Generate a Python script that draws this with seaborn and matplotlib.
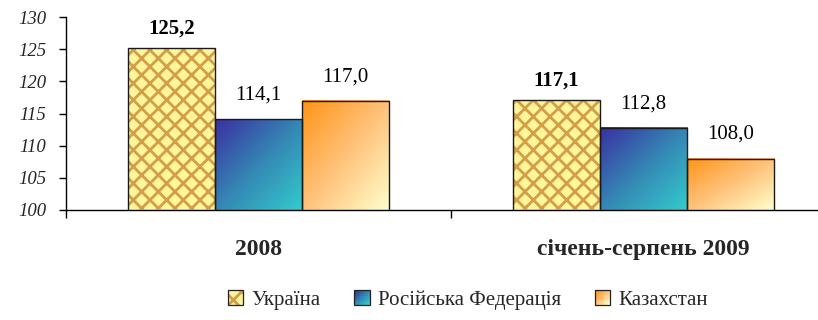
import numpy as np
import pandas as pd
import matplotlib
matplotlib.use("Agg")
import matplotlib.pyplot as plt
import seaborn as sns
from matplotlib.colors import LinearSegmentedColormap
from matplotlib.patches import Rectangle
from matplotlib.legend_handler import HandlerBase

# --- data -----------------------------------------------------------------
periods = ["2008", "січень-серпень 2009"]
countries = ["Україна", "Російська Федерація", "Казахстан"]
ukraine = [125.2, 117.1]
russia = [114.1, 112.8]
kazakhstan = [117.0, 108.0]
y_ticks = [100, 105, 110, 115, 120, 125, 130]

df = pd.DataFrame({
    "period": periods * 3,
    "country": [c for c in countries for _ in periods],
    "value": ukraine + russia + kazakhstan,
})

# --- style ------------------------------------------------------------------
sns.set_theme(style="white")
SERIF = ["Liberation Serif", "DejaVu Serif"]
plt.rcParams["font.family"] = SERIF
plt.rcParams["hatch.linewidth"] = 2.0

HATCH_FACE = "#FFF59A"
HATCH_LINE = "#D39E48"
cmap_blue = LinearSegmentedColormap.from_list(
    "rf", ["#3A30A2", "#3586B4", "#33CCCC"])
cmap_orange = LinearSegmentedColormap.from_list(
    "kz", ["#FF9418", "#FFC27A", "#FFFFCC"])
fills = {"Україна": None, "Російська Федерація": cmap_blue, "Казахстан": cmap_orange}

Y_MIN, Y_MAX = 100, 130

fig = plt.figure(figsize=(8.18, 3.2), dpi=100)
ax = fig.add_axes([66 / 818, 110 / 320, 770 / 818, 193 / 320])

sns.barplot(data=df, x="period", y="value", hue="country", order=periods,
            hue_order=countries, width=0.68, ax=ax, legend=False,
            color="white", edgecolor="#1a1a1a", linewidth=1.0)


def diag_gradient(n=64):
    u = np.linspace(0, 1, n)
    return (u[None, :] + u[:, None]) / 2.0


grad = diag_gradient()

for country, cont in zip(countries, ax.containers):
    cmap = fills[country]
    for bar, val in zip(cont.patches, cont.datavalues):
        x, w = bar.get_x(), bar.get_width()
        top = bar.get_y() + bar.get_height()
        bar.set_facecolor("none")
        bar.set_zorder(4)
        if cmap is None:
            base = Rectangle((x, Y_MIN), w, top - Y_MIN, facecolor=HATCH_FACE,
                             edgecolor="none", zorder=2)
            ax.add_patch(base)
            hat = Rectangle((x, Y_MIN), w, top - Y_MIN, facecolor="none",
                            edgecolor=HATCH_LINE, linewidth=0, hatch="xx",
                            zorder=3)
            ax.add_patch(hat)
        else:
            ax.imshow(grad, cmap=cmap, extent=(x, x + w, Y_MIN, top),
                      origin="upper", aspect="auto", zorder=2,
                      interpolation="bilinear")
        bold = country == "Україна"
        ax.annotate(f"{val:.1f}".replace(".", ","),
                    xy=(x + w / 2, top), xytext=(0, 7 if bold else 10.5),
                    textcoords="offset points", ha="center", va="bottom",
                    fontsize=15, fontweight="bold" if bold else "normal",
                    family=SERIF, color="black")

ax.set_xlim(-0.5, 1.5)
ax.set_ylim(Y_MIN, Y_MAX)

# --- axes -------------------------------------------------------------------
sns.despine(ax=ax, top=True, right=True)
for side in ("left", "bottom"):
    ax.spines[side].set_color("black")
    ax.spines[side].set_linewidth(1.0)

ax.set_yticks(y_ticks)
ax.set_yticklabels([str(t) for t in y_ticks], fontsize=13.5,
                   fontstyle="italic", family=SERIF)
ax.tick_params(axis="y", direction="out", length=5, width=1.0,
               color="black", pad=9, left=True)

ax.set_xticks(range(len(periods)))
ax.set_xticklabels(periods, fontsize=17, fontweight="bold", family=SERIF)
ax.set_xticks([-0.5, 0.5, 1.5], minor=True)
ax.tick_params(axis="x", which="major", length=0, pad=21)
ax.tick_params(axis="x", which="minor", direction="out", length=6,
               width=1.0, color="black", bottom=True)
ax.set_xlabel("")
ax.set_ylabel("")
ax.grid(False)


# --- legend -----------------------------------------------------------------
class SwatchHandler(HandlerBase):
    def __init__(self, cmap=None, **kw):
        super().__init__(**kw)
        self.cmap = cmap

    def create_artists(self, legend, orig_handle, xdescent, ydescent,
                       width, height, fontsize, trans):
        s = min(width, height)
        x0 = -xdescent + (width - s) / 2
        y0 = -ydescent + (height - s) / 2
        arts = []
        if self.cmap is None:
            arts.append(Rectangle((x0, y0), s, s, facecolor=HATCH_FACE,
                                  edgecolor="none", transform=trans))
            arts.append(Rectangle((x0, y0), s, s, facecolor="none",
                                  edgecolor=HATCH_LINE, linewidth=0,
                                  hatch="xx", transform=trans))
        else:
            n = 8
            d = s / n
            for i in range(n):
                for j in range(n):
                    t = (j + (n - 1 - i)) / (2 * (n - 1))
                    arts.append(Rectangle((x0 + j * d, y0 + i * d), d * 1.02,
                                          d * 1.02,
                                          facecolor=self.cmap(t),
                                          edgecolor="none", transform=trans))
        arts.append(Rectangle((x0, y0), s, s, facecolor="none",
                              edgecolor="#222222", linewidth=0.9,
                              transform=trans))
        return arts


handles = [Rectangle((0, 0), 1, 1) for _ in countries]
handler_map = {h: SwatchHandler(cmap=fills[c]) for h, c in zip(handles, countries)}
fig.legend(handles, countries, handler_map=handler_map, loc="center",
           bbox_to_anchor=(468 / 818, 1 - 300 / 320), ncol=3, frameon=False,
           prop={"family": SERIF, "size": 15}, handlelength=0.75,
           handleheight=0.75, handletextpad=0.4, columnspacing=1.6)

fig.savefig("out.png", dpi=100, facecolor="white")
